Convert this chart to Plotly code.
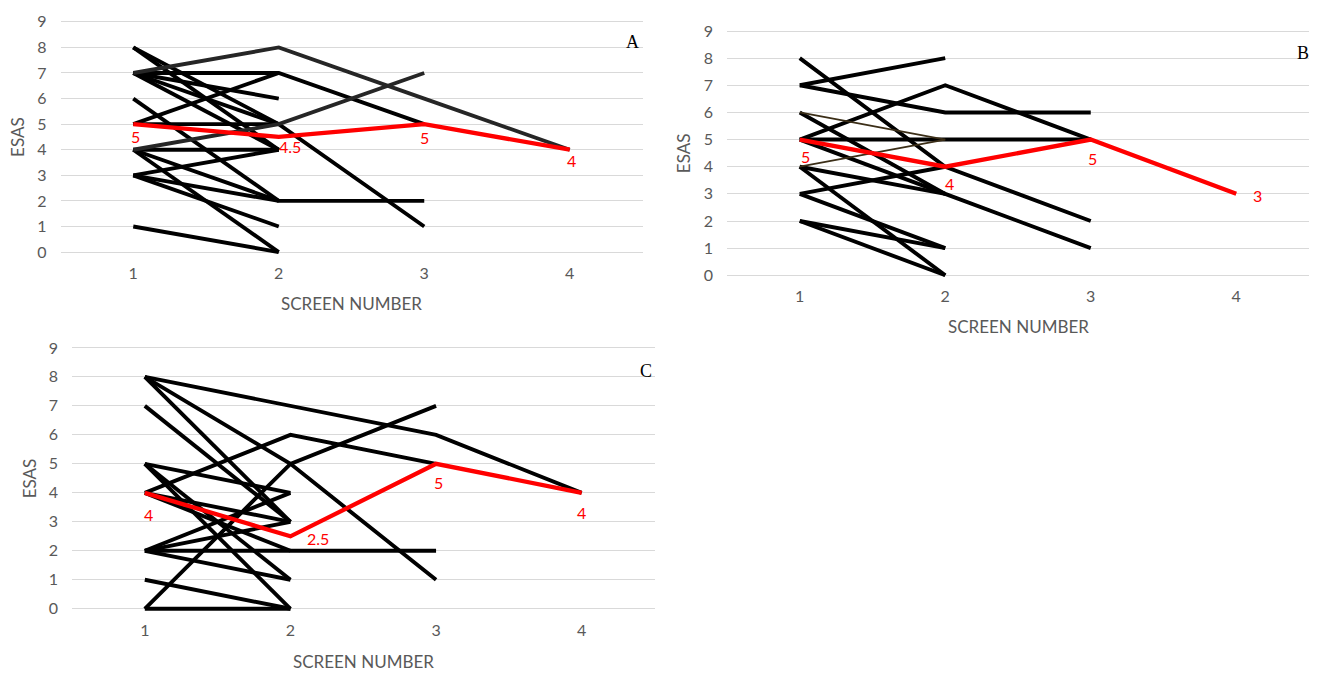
import plotly.graph_objects as go

# ---------------- data ----------------
SCREENS = [1, 2, 3, 4]
Y_TICKS = [0, 1, 2, 3, 4, 5, 6, 7, 8, 9]
X_TITLE = "SCREEN NUMBER"
Y_TITLE = "ESAS"
PANEL_LABELS = ["A", "B", "C"]

# individual patients (ESAS score at screen 1, 2, 3, ...)
A_LINES = [[8, 5, 1], [8, 4], [7, 7, 5], [7, 6], [7, 5], [7, 4], [6, 2],
           [5, 5], [5, 7], [4, 4], [4, 2, 2], [4, 0], [3, 4], [3, 2],
           [3, 1], [1, 0]]
A_GRAY_LINES = [[7, 8, 6, 4], [4, 5, 7]]
A_MEDIAN = [5, 4.5, 5, 4]

B_LINES = [[8, 4, 2], [7, 8], [7, 6, 6], [6, 3, 1], [5, 7, 5], [5, 5, 5],
           [5, 3], [4, 3], [4, 0], [3, 4], [3, 1], [2, 1], [2, 0]]
B_THIN_LINES = [[6, 5], [4, 5]]
B_MEDIAN = [5, 4, 5, 3]

C_LINES = [[8, 7, 6, 4], [8, 5, 1], [8, 3], [7, 3], [5, 4], [5, 1], [5, 0],
           [4, 6, 5], [4, 3], [4, 2], [2, 4], [2, 3], [2, 2, 2], [2, 1],
           [1, 0], [0, 0], [0, 5, 7]]
C_MEDIAN = [4, 2.5, 5, 4]

# ---------------- layout geometry (pixels) ----------------
W, H = 1320, 674
# x pixel of 0.5 and 4.5, y pixel of value 0 and 9
GEOM = {
    "A": dict(x05=60.5, x45=642.5, y0=248.0, y9=15.0),
    "B": dict(x05=727.0, x45=1309.0, y0=271.5, y9=24.3),
    "C": dict(x05=72.0, x45=654.5, y0=609.0, y9=345.0),
}
YR = [-0.3, 9.15]

# red label offsets (dx, dy in px, dy positive = down)
RED_OFFSETS = {
    "A": [(2, 12), (11, 10), (0, 13), (2, 11)],
    "B": [(6, 17), (4, 17), (2, 19), (21, 2)],
    "C": [(4, 22), (28, 2), (2, 19), (0, 20)],
}
LABEL_POS = {"A": (632, 35), "B": (1303, 47), "C": (646, 368)}
XTITLE_Y = {"A": 300, "B": 323, "C": 662}
YTITLE_X = {"A": 18, "B": 683, "C": 29}

FONT = "Lato, Calibri, sans-serif"
GREY_TXT = "#595959"
GRID = "#d9d9d9"

fig = go.Figure()
annotations = []

panels = [
    ("A", A_LINES, A_GRAY_LINES, A_MEDIAN, "#262626", 3.9),
    ("B", B_LINES, B_THIN_LINES, B_MEDIAN, "#3b2e17", 1.8),
    ("C", C_LINES, [], C_MEDIAN, "#000000", 3.9),
]

for i, (name, lines, extra, median, extra_color, extra_w) in enumerate(panels):
    g = GEOM[name]
    unit = (g["y0"] - g["y9"]) / 9.0
    ytop_px = g["y0"] - YR[1] * unit
    ybot_px = g["y0"] - YR[0] * unit
    xa = "x" if i == 0 else f"x{i+1}"
    ya = "y" if i == 0 else f"y{i+1}"
    xkey = "xaxis" if i == 0 else f"xaxis{i+1}"
    ykey = "yaxis" if i == 0 else f"yaxis{i+1}"

    for vals in lines:
        fig.add_trace(go.Scatter(x=SCREENS[:len(vals)], y=vals, mode="lines",
                                 line=dict(color="#000000", width=3.9),
                                 xaxis=xa, yaxis=ya, showlegend=False,
                                 hoverinfo="skip"))
    for vals in extra:
        fig.add_trace(go.Scatter(x=SCREENS[:len(vals)], y=vals, mode="lines",
                                 line=dict(color=extra_color, width=extra_w),
                                 xaxis=xa, yaxis=ya, showlegend=False,
                                 hoverinfo="skip"))
    fig.add_trace(go.Scatter(x=SCREENS[:len(median)], y=median, mode="lines",
                             line=dict(color="#ff0000", width=4.3),
                             xaxis=xa, yaxis=ya, showlegend=False,
                             hoverinfo="skip"))
    for xv, yv, (dx, dy) in zip(SCREENS, median, RED_OFFSETS[name]):
        annotations.append(dict(x=xv, y=yv, xref=xa, yref=ya,
                                text=f"{yv:g}", showarrow=False,
                                xshift=dx, yshift=-dy,
                                font=dict(family=FONT, size=16, color="#ff0000")))

    fig.layout[xkey] = dict(domain=[g["x05"] / W, g["x45"] / W],
                            range=[0.5, 4.5], tickvals=SCREENS,
                            showgrid=False, zeroline=False, showline=False,
                            ticks="", ticklabelstandoff=2,
                            tickfont=dict(family=FONT, size=16, color=GREY_TXT),
                            anchor=ya, fixedrange=True)
    fig.layout[ykey] = dict(domain=[1 - ybot_px / H, 1 - ytop_px / H],
                            range=YR, tickvals=Y_TICKS,
                            showgrid=True, gridcolor=GRID, gridwidth=1.3,
                            zeroline=False, showline=False, ticks="",
                            ticklabelstandoff=13,
                            tickfont=dict(family=FONT, size=16, color=GREY_TXT),
                            anchor=xa, fixedrange=True)

    cx = (g["x05"] + g["x45"]) / 2
    cy = (g["y0"] + g["y9"]) / 2
    annotations.append(dict(x=cx / W, y=1 - XTITLE_Y[name] / H, xref="paper",
                            yref="paper", text=X_TITLE, showarrow=False,
                            xanchor="center", yanchor="middle",
                            font=dict(family=FONT, size=17, color=GREY_TXT)))
    annotations.append(dict(x=YTITLE_X[name] / W, y=1 - cy / H, xref="paper",
                            yref="paper", text=Y_TITLE, showarrow=False,
                            textangle=-90, xanchor="center", yanchor="middle",
                            font=dict(family=FONT, size=17, color=GREY_TXT)))
    lx, ly = LABEL_POS[name]
    annotations.append(dict(x=lx / W, y=1 - ly / H, xref="paper", yref="paper",
                            text=PANEL_LABELS[i], showarrow=False,
                            xanchor="center", yanchor="middle",
                            font=dict(family="Liberation Serif, Times New Roman, serif",
                                      size=18, color="#000000")))

fig.update_layout(width=W, height=H, margin=dict(l=0, r=0, t=0, b=0),
                  paper_bgcolor="white", plot_bgcolor="white",
                  annotations=annotations, showlegend=False)

fig.write_html("out.html", include_plotlyjs=True, full_html=True,
               config={"displayModeBar": False},
               post_script="document.body.style.margin='0';"
                           "document.body.style.padding='0';"
                           "document.body.style.overflow='hidden';")
